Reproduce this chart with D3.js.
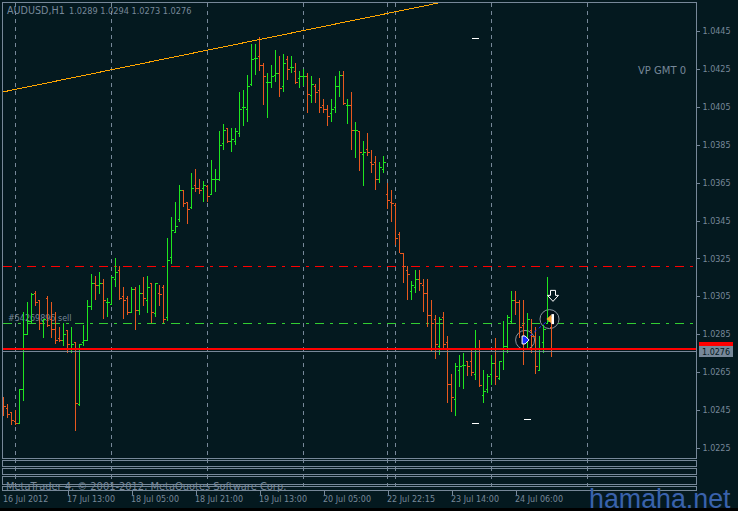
<!DOCTYPE html>
<html><head><meta charset="utf-8">
<script src="https://cdn.jsdelivr.net/npm/d3@7/dist/d3.min.js"></script>
<style>
html,body{margin:0;padding:0;background:#04191f;overflow:hidden}
svg{display:block}
text{font-family:"DejaVu Sans",sans-serif}
</style></head><body>
<svg id="c" width="738" height="511"></svg>
<script>
const barOpen=[1.0250,1.0246,1.0244,1.0239,1.0238,1.0256,1.0285,1.0292,1.0307,1.0303,1.0292,1.0304,1.0293,1.0288,1.0283,1.0282,1.0287,1.0278,1.0281,1.0248,1.0281,1.0282,1.0300,1.0312,1.0311,1.0312,1.0302,1.0301,1.0314,1.0319,1.0305,1.0304,1.0297,1.0309,1.0298,1.0307,1.0303,1.0312,1.0296,1.0307,1.0310,1.0294,1.0326,1.0339,1.0346,1.0361,1.0355,1.0352,1.0364,1.0362,1.0362,1.0363,1.0359,1.0367,1.0367,1.0386,1.0394,1.0387,1.0387,1.0391,1.0405,1.0404,1.0417,1.0431,1.0432,1.0427,1.0418,1.0418,1.0422,1.0423,1.0416,1.0430,1.0426,1.0424,1.0420,1.0421,1.0421,1.0411,1.0416,1.0414,1.0406,1.0404,1.0402,1.0405,1.0416,1.0422,1.0406,1.0406,1.0393,1.0392,1.0380,1.0383,1.0376,1.0376,1.0367,1.0372,1.0359,1.0355,1.0353,1.0338,1.0328,1.0319,1.0308,1.0310,1.0314,1.0311,1.0307,1.0295,1.0293,1.0279,1.0294,1.0281,1.0259,1.0251,1.0266,1.0269,1.0271,1.0271,1.0264,1.0276,1.0253,1.0256,1.0264,1.0270,1.0262,1.0278,1.0279,1.0292,1.0303,1.0302,1.0290,1.0283,1.0287,1.0284,1.0266,1.0281,1.0291,1.0289];
const barHigh=[1.0252,1.0248,1.0244,1.0245,1.0256,1.0297,1.0302,1.0307,1.0308,1.0303,1.0293,1.0305,1.0302,1.0297,1.0289,1.0291,1.0287,1.0289,1.0281,1.0280,1.0290,1.0303,1.0317,1.0316,1.0318,1.0314,1.0304,1.0316,1.0325,1.0321,1.0310,1.0305,1.0310,1.0310,1.0311,1.0315,1.0316,1.0312,1.0312,1.0311,1.0311,1.0336,1.0347,1.0355,1.0364,1.0361,1.0355,1.0370,1.0372,1.0367,1.0366,1.0364,1.0377,1.0372,1.0392,1.0396,1.0394,1.0394,1.0394,1.0413,1.0414,1.0422,1.0438,1.0438,1.0442,1.0428,1.0423,1.0427,1.0435,1.0432,1.0433,1.0432,1.0432,1.0428,1.0424,1.0425,1.0423,1.0421,1.0417,1.0420,1.0409,1.0406,1.0409,1.0421,1.0424,1.0424,1.0409,1.0413,1.0397,1.0392,1.0387,1.0391,1.0382,1.0379,1.0376,1.0379,1.0365,1.0361,1.0354,1.0339,1.0328,1.0321,1.0313,1.0319,1.0319,1.0314,1.0314,1.0303,1.0295,1.0294,1.0297,1.0284,1.0264,1.0270,1.0274,1.0275,1.0271,1.0278,1.0287,1.0282,1.0266,1.0264,1.0274,1.0283,1.0271,1.0292,1.0295,1.0308,1.0308,1.0303,1.0303,1.0296,1.0293,1.0289,1.0284,1.0290,1.0315,1.0294];
const barLow=[1.0242,1.0241,1.0237,1.0237,1.0238,1.0250,1.0285,1.0291,1.0300,1.0287,1.0283,1.0289,1.0283,1.0280,1.0281,1.0279,1.0275,1.0275,1.0234,1.0247,1.0279,1.0282,1.0298,1.0303,1.0306,1.0293,1.0294,1.0301,1.0310,1.0303,1.0293,1.0295,1.0296,1.0287,1.0295,1.0300,1.0296,1.0291,1.0294,1.0300,1.0291,1.0292,1.0322,1.0339,1.0344,1.0352,1.0343,1.0351,1.0360,1.0359,1.0355,1.0355,1.0359,1.0360,1.0366,1.0382,1.0386,1.0381,1.0385,1.0389,1.0395,1.0397,1.0416,1.0422,1.0424,1.0406,1.0399,1.0415,1.0418,1.0410,1.0413,1.0419,1.0423,1.0417,1.0415,1.0416,1.0402,1.0407,1.0407,1.0402,1.0402,1.0395,1.0397,1.0402,1.0410,1.0406,1.0396,1.0382,1.0378,1.0371,1.0363,1.0379,1.0370,1.0361,1.0365,1.0370,1.0351,1.0344,1.0332,1.0328,1.0312,1.0303,1.0303,1.0307,1.0308,1.0297,1.0289,1.0276,1.0272,1.0274,1.0277,1.0249,1.0244,1.0242,1.0257,1.0256,1.0263,1.0263,1.0261,1.0257,1.0249,1.0254,1.0258,1.0258,1.0261,1.0266,1.0275,1.0291,1.0295,1.0283,1.0269,1.0277,1.0275,1.0264,1.0266,1.0275,1.0291,1.0273];
const barClose=[1.0247,1.0243,1.0240,1.0238,1.0256,1.0285,1.0292,1.0306,1.0302,1.0291,1.0293,1.0290,1.0288,1.0282,1.0282,1.0285,1.0280,1.0280,1.0249,1.0280,1.0282,1.0300,1.0312,1.0311,1.0312,1.0303,1.0302,1.0315,1.0318,1.0304,1.0303,1.0297,1.0309,1.0298,1.0307,1.0304,1.0310,1.0297,1.0312,1.0306,1.0293,1.0324,1.0340,1.0342,1.0361,1.0354,1.0351,1.0362,1.0362,1.0361,1.0364,1.0358,1.0367,1.0367,1.0385,1.0393,1.0387,1.0388,1.0392,1.0404,1.0405,1.0416,1.0430,1.0431,1.0427,1.0421,1.0418,1.0421,1.0423,1.0415,1.0428,1.0425,1.0426,1.0418,1.0421,1.0421,1.0412,1.0417,1.0413,1.0405,1.0404,1.0400,1.0404,1.0416,1.0422,1.0407,1.0406,1.0393,1.0393,1.0381,1.0381,1.0381,1.0375,1.0367,1.0373,1.0376,1.0356,1.0354,1.0336,1.0328,1.0321,1.0317,1.0311,1.0314,1.0312,1.0307,1.0295,1.0291,1.0280,1.0293,1.0280,1.0259,1.0252,1.0268,1.0268,1.0269,1.0268,1.0265,1.0276,1.0258,1.0255,1.0263,1.0270,1.0263,1.0271,1.0279,1.0294,1.0303,1.0302,1.0289,1.0282,1.0293,1.0284,1.0268,1.0277,1.0288,1.0292,1.0276];
const priceTicks=[1.0445,1.0425,1.0405,1.0385,1.0365,1.0345,1.0325,1.0305,1.0285,1.0265,1.0245,1.0225];
const timeTickBars=[16,32,48,64,80,96,112,128];
const timeTickLabels=["17 Jul 13:00","18 Jul 05:00","18 Jul 21:00","19 Jul 13:00","20 Jul 05:00","22 Jul 22:15","23 Jul 14:00","24 Jul 06:00"];
const firstTimeLabel="16 Jul 2012";
const gridBars=[3,27,51,75,96,98,122,146];
const trendBars=[-0.25,109.25];
const trendPrices=[1.04128,1.04600];
const redLevel=1.0321, greenLevel=1.0291, stopLevel=1.02775, bidLevel=1.0276;
const dashMarkBars=[118,118,131];
const dashMarkPrices=[1.0441,1.0238,1.0240];
const tradeBars=[130.4,136.5];
const tradePrices=[1.0282,1.0293];
const downArrowBar=137.5, downArrowPrice=1.0305;
const titleSymbol="AUDUSD,H1";
const titleQuotes="1.0289 1.0294 1.0273 1.0276";
const orderText="#54269896 sell";
const indicatorText="VP GMT 0";
const copyrightText="MetaTrader 4, © 2001-2012, MetaQuotes Software Corp.";
const watermarkText="hamaha.net";

const BG="#04191f",SLATE="#778899",UP="#1fe61f",DOWN="#e8581e";
const svg=d3.select("#c");
const x=d3.scaleLinear().domain([0,1]).range([3.5,7.5]);
const y=d3.scaleLinear().domain([1.0225,1.0445]).range([448,31]);
const py=p=>Math.round(y(p))+0.5;
svg.append("rect").attr("width",738).attr("height",511).attr("fill",BG);
svg.append("rect").attr("y",508).attr("width",738).attr("height",3).attr("fill","#000");

const crisp=svg.append("g").attr("shape-rendering","crispEdges");
crisp.selectAll(".grid").data(gridBars).join("line").attr("x1",d=>x(d)).attr("x2",d=>x(d)).attr("y1",3).attr("y2",490)
 .attr("stroke",SLATE).attr("stroke-dasharray","4,4");

svg.append("text").attr("x",7).attr("y",14).attr("fill",SLATE).attr("font-size",9.6).text(titleSymbol);
svg.append("text").attr("x",69).attr("y",14).attr("fill",SLATE).attr("font-size",8.2).text(titleQuotes);
svg.append("text").attr("x",8).attr("y",321).attr("fill",SLATE).attr("font-size",8).text(orderText);
svg.append("text").attr("x",638).attr("y",74).attr("fill",SLATE).attr("font-size",10).text(indicatorText);

const lev=svg.append("g").attr("shape-rendering","crispEdges");
lev.append("line").attr("x1",3).attr("x2",696).attr("y1",py(redLevel)).attr("y2",py(redLevel)).attr("stroke","#ff0000").attr("stroke-dasharray","9,6,3,6");
lev.append("line").attr("x1",3).attr("x2",696).attr("y1",py(greenLevel)).attr("y2",py(greenLevel)).attr("stroke","#32cd32").attr("stroke-dasharray","9,6,3,6");

svg.append("g").selectAll("circle").data(tradeBars).join("circle")
 .attr("cx",d=>x(d)).attr("cy",(d,i)=>y(tradePrices[i])).attr("r",9.5)
 .attr("fill","#03101a").attr("stroke","#8a96a0").attr("stroke-width",1);

const bars=barOpen.map((o,i)=>({i,o,h:barHigh[i],l:barLow[i],c:barClose[i]}));
const col=d=>d.c<d.o?DOWN:UP;
const gb=svg.append("g").attr("shape-rendering","crispEdges");
const b=gb.selectAll("g").data(bars).join("g");
b.append("line").attr("x1",d=>x(d.i)).attr("x2",d=>x(d.i)).attr("y1",d=>y(d.h)).attr("y2",d=>y(d.l)).attr("stroke",col);
b.append("line").attr("x1",d=>x(d.i)-1.5).attr("x2",d=>x(d.i)).attr("y1",d=>py(d.o)).attr("y2",d=>py(d.o)).attr("stroke",col);
b.append("line").attr("x1",d=>x(d.i)).attr("x2",d=>x(d.i)+2).attr("y1",d=>py(d.c)).attr("y2",d=>py(d.c)).attr("stroke",col);

const ov=svg.append("g").attr("shape-rendering","crispEdges");
ov.append("line").attr("x1",3).attr("x2",696).attr("y1",y(stopLevel)+0.5).attr("y2",y(stopLevel)+0.5).attr("stroke","#ff0000").attr("stroke-width",2);
ov.append("line").attr("x1",3).attr("x2",696).attr("y1",py(bidLevel)).attr("y2",py(bidLevel)).attr("stroke",SLATE);

svg.append("line").attr("shape-rendering","crispEdges").attr("x1",x(trendBars[0])).attr("x2",x(trendBars[1])).attr("y1",y(trendPrices[0])).attr("y2",y(trendPrices[1]))
 .attr("stroke","#ffa500").attr("stroke-width",1);

svg.selectAll(".dm").data(dashMarkBars).join("line").attr("shape-rendering","crispEdges")
 .attr("x1",d=>x(d)-4).attr("x2",d=>x(d)+3).attr("y1",(d,i)=>y(dashMarkPrices[i])).attr("y2",(d,i)=>y(dashMarkPrices[i]))
 .attr("stroke","#fff").attr("stroke-width",1.5);

svg.append("line").attr("x1",x(tradeBars[0])).attr("x2",x(tradeBars[1])).attr("y1",y(tradePrices[0])).attr("y2",y(tradePrices[1]))
 .attr("stroke","#1a2cff").attr("stroke-dasharray","3,3");
const t0=svg.append("g").attr("transform",`translate(${x(tradeBars[0])},${y(tradePrices[0])})`);
t0.append("path").attr("d","M-3,-4L0,-4L4,0L0,4L-3,4Z").attr("fill","#1a2cff").attr("stroke","#fff").attr("stroke-width",1);
const t1=svg.append("g").attr("transform",`translate(${x(tradeBars[1])},${y(tradePrices[1])})`);
t1.append("path").attr("d","M-3,0L2,-4.5L2,4.5Z").attr("fill","#f0a030");
t1.append("rect").attr("x",2).attr("y",-5).attr("width",2.5).attr("height",10).attr("fill","#fff");
const ar=svg.append("g").attr("transform",`translate(${x(downArrowBar)-0.5},${y(downArrowPrice)})`);
ar.append("path").attr("d","M-2.5,-6L2.5,-6L2.5,-1L5.5,-1L0,5L-5.5,-1L-2.5,-1Z").attr("fill",BG).attr("stroke","#fff").attr("stroke-width",1);

const fr=svg.append("g").attr("shape-rendering","crispEdges").attr("fill","none").attr("stroke",SLATE);
const panes=[[2.5,458.5],[460.5,466.5],[468.5,474.5],[476.5,484.5],[486.5,490.5]];
fr.selectAll("rect").data(panes).join("rect").attr("x",2.5).attr("width",694).attr("y",d=>d[0]).attr("height",d=>d[1]-d[0]);

svg.append("text").attr("x",6).attr("y",490).attr("fill",SLATE).attr("font-size",9.9).text(copyrightText);

const ya=d3.axisRight(y).tickValues(priceTicks).tickFormat(d3.format(".4f")).tickSize(3).tickPadding(3);
const yg=svg.append("g").attr("transform","translate(696.5,0)").call(ya);
yg.select(".domain").remove();
yg.selectAll("line").attr("stroke",SLATE).attr("shape-rendering","crispEdges");
yg.selectAll("text").attr("fill",SLATE).attr("font-size",8).attr("font-family",'"DejaVu Sans",sans-serif');

const xa=d3.axisBottom(x).tickValues(timeTickBars).tickFormat((d,i)=>timeTickLabels[i]).tickSize(4).tickPadding(2);
const xg=svg.append("g").attr("transform","translate(0,490.5)").call(xa);
xg.select(".domain").remove();
xg.selectAll("line").attr("stroke",SLATE).attr("shape-rendering","crispEdges");
xg.selectAll("text").attr("fill",SLATE).attr("font-size",8).attr("text-anchor","start").attr("font-family",'"DejaVu Sans",sans-serif').attr("dx",-1);
svg.append("text").attr("x",3).attr("y",502).attr("fill",SLATE).attr("font-size",8).text(firstTimeLabel);

svg.append("rect").attr("x",699).attr("y",342).attr("width",34).attr("height",5).attr("fill","#ff0000");
svg.append("rect").attr("x",699).attr("y",346).attr("width",34).attr("height",11).attr("fill",SLATE);
svg.append("text").attr("x",702).attr("y",355).attr("fill",BG).attr("font-size",8).text(d3.format(".4f")(bidLevel));

svg.append("text").attr("x",589).attr("y",508).attr("fill","#3a62ac").attr("font-size",26.8).style("font-family",'"Liberation Sans",sans-serif').text(watermarkText);
</script>
</body></html>
